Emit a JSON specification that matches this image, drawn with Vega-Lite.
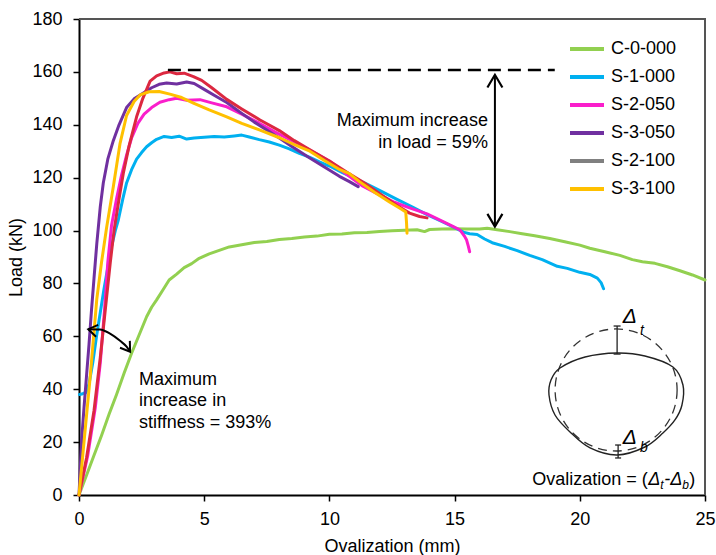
{
  "$schema": "https://vega.github.io/schema/vega-lite/v6.json",
  "width": 626,
  "height": 476,
  "autosize": {"type": "none"},
  "padding": {"left": 79, "top": 19, "right": 11, "bottom": 60},
  "background": "white",
  "config": {
    "font": "Liberation Sans",
    "view": {"stroke": null},
    "axis": {
      "grid": false,
      "domainColor": "black",
      "domainWidth": 2,
      "tickColor": "black",
      "tickWidth": 1.5,
      "tickSize": 6,
      "labelFlush": false,
      "labelFontSize": 18,
      "labelColor": "black",
      "titleFontSize": 18,
      "titleFontWeight": "normal",
      "titleColor": "black"
    },
    "text": {"font": "Liberation Sans", "fontSize": 18, "color": "black"}
  },
  "datasets": {
    "curves": [
      {"s": "C-0-000", "x": 0, "y": 0}, {"s": "C-0-000", "x": 0.3, "y": 7.5}, {"s": "C-0-000", "x": 0.6, "y": 15}, {"s": "C-0-000", "x": 0.9, "y": 22.5}, {"s": "C-0-000", "x": 1.2, "y": 30.5}, {"s": "C-0-000", "x": 1.5, "y": 38}, {"s": "C-0-000", "x": 1.8, "y": 46}, {"s": "C-0-000", "x": 2.1, "y": 53.6}, {"s": "C-0-000", "x": 2.4, "y": 60.5}, {"s": "C-0-000", "x": 2.7, "y": 67.4}, {"s": "C-0-000", "x": 2.9, "y": 71}, {"s": "C-0-000", "x": 3.1, "y": 73.8}, {"s": "C-0-000", "x": 3.35, "y": 77.5}, {"s": "C-0-000", "x": 3.6, "y": 81.3}, {"s": "C-0-000", "x": 3.9, "y": 83.5}, {"s": "C-0-000", "x": 4.2, "y": 86}, {"s": "C-0-000", "x": 4.5, "y": 87.5}, {"s": "C-0-000", "x": 4.8, "y": 89.5}, {"s": "C-0-000", "x": 5.2, "y": 91.2}, {"s": "C-0-000", "x": 5.6, "y": 92.5}, {"s": "C-0-000", "x": 6.0, "y": 93.8}, {"s": "C-0-000", "x": 6.5, "y": 94.6}, {"s": "C-0-000", "x": 7.0, "y": 95.5}, {"s": "C-0-000", "x": 7.5, "y": 95.9}, {"s": "C-0-000", "x": 8.0, "y": 96.6}, {"s": "C-0-000", "x": 8.5, "y": 97.0}, {"s": "C-0-000", "x": 9.0, "y": 97.6}, {"s": "C-0-000", "x": 9.5, "y": 97.9}, {"s": "C-0-000", "x": 10.0, "y": 98.6}, {"s": "C-0-000", "x": 10.5, "y": 98.7}, {"s": "C-0-000", "x": 11.0, "y": 99.2}, {"s": "C-0-000", "x": 11.5, "y": 99.3}, {"s": "C-0-000", "x": 12.0, "y": 99.6}, {"s": "C-0-000", "x": 12.5, "y": 99.9}, {"s": "C-0-000", "x": 13.0, "y": 100.1}, {"s": "C-0-000", "x": 13.5, "y": 100.3}, {"s": "C-0-000", "x": 13.8, "y": 99.6}, {"s": "C-0-000", "x": 14.0, "y": 100.4}, {"s": "C-0-000", "x": 14.5, "y": 100.6}, {"s": "C-0-000", "x": 15.0, "y": 100.7}, {"s": "C-0-000", "x": 15.5, "y": 100.6}, {"s": "C-0-000", "x": 16.0, "y": 100.6}, {"s": "C-0-000", "x": 16.3, "y": 100.9}, {"s": "C-0-000", "x": 16.7, "y": 100.3}, {"s": "C-0-000", "x": 17.2, "y": 99.6}, {"s": "C-0-000", "x": 17.7, "y": 98.8}, {"s": "C-0-000", "x": 18.2, "y": 98.0}, {"s": "C-0-000", "x": 18.8, "y": 97.0}, {"s": "C-0-000", "x": 19.4, "y": 95.8}, {"s": "C-0-000", "x": 20.0, "y": 94.5}, {"s": "C-0-000", "x": 20.4, "y": 93.3}, {"s": "C-0-000", "x": 21.0, "y": 92.0}, {"s": "C-0-000", "x": 21.6, "y": 90.6}, {"s": "C-0-000", "x": 22.1, "y": 89.0}, {"s": "C-0-000", "x": 22.5, "y": 88.2}, {"s": "C-0-000", "x": 23.0, "y": 87.6}, {"s": "C-0-000", "x": 23.5, "y": 86.3}, {"s": "C-0-000", "x": 24.0, "y": 84.8}, {"s": "C-0-000", "x": 24.5, "y": 83.2}, {"s": "C-0-000", "x": 25.0, "y": 81.3},

      {"s": "S-1-000", "x": 0.02, "y": 38}, {"s": "S-1-000", "x": 0.15, "y": 38.3}, {"s": "S-1-000", "x": 0.28, "y": 38.8}, {"s": "S-1-000", "x": 0.4, "y": 42}, {"s": "S-1-000", "x": 0.55, "y": 50}, {"s": "S-1-000", "x": 0.7, "y": 60}, {"s": "S-1-000", "x": 0.85, "y": 69}, {"s": "S-1-000", "x": 1.0, "y": 78}, {"s": "S-1-000", "x": 1.15, "y": 86}, {"s": "S-1-000", "x": 1.3, "y": 94}, {"s": "S-1-000", "x": 1.45, "y": 100}, {"s": "S-1-000", "x": 1.57, "y": 104}, {"s": "S-1-000", "x": 1.75, "y": 112}, {"s": "S-1-000", "x": 1.9, "y": 118}, {"s": "S-1-000", "x": 2.1, "y": 123}, {"s": "S-1-000", "x": 2.3, "y": 127}, {"s": "S-1-000", "x": 2.5, "y": 129.5}, {"s": "S-1-000", "x": 2.7, "y": 131.7}, {"s": "S-1-000", "x": 2.9, "y": 133.2}, {"s": "S-1-000", "x": 3.1, "y": 134.5}, {"s": "S-1-000", "x": 3.4, "y": 135.6}, {"s": "S-1-000", "x": 3.7, "y": 135.2}, {"s": "S-1-000", "x": 4.0, "y": 135.7}, {"s": "S-1-000", "x": 4.3, "y": 134.6}, {"s": "S-1-000", "x": 4.6, "y": 135.0}, {"s": "S-1-000", "x": 5.0, "y": 135.3}, {"s": "S-1-000", "x": 5.4, "y": 135.6}, {"s": "S-1-000", "x": 5.8, "y": 135.4}, {"s": "S-1-000", "x": 6.2, "y": 135.8}, {"s": "S-1-000", "x": 6.5, "y": 136.1}, {"s": "S-1-000", "x": 6.8, "y": 135.4}, {"s": "S-1-000", "x": 7.2, "y": 134.4}, {"s": "S-1-000", "x": 7.6, "y": 133.5}, {"s": "S-1-000", "x": 8.0, "y": 132.3}, {"s": "S-1-000", "x": 8.4, "y": 130.9}, {"s": "S-1-000", "x": 8.8, "y": 129.2}, {"s": "S-1-000", "x": 9.2, "y": 127.8}, {"s": "S-1-000", "x": 9.6, "y": 126}, {"s": "S-1-000", "x": 10.0, "y": 124.4}, {"s": "S-1-000", "x": 10.5, "y": 122}, {"s": "S-1-000", "x": 11.0, "y": 119.8}, {"s": "S-1-000", "x": 11.5, "y": 117.6}, {"s": "S-1-000", "x": 12.0, "y": 115.2}, {"s": "S-1-000", "x": 12.7, "y": 111.8}, {"s": "S-1-000", "x": 13.3, "y": 109}, {"s": "S-1-000", "x": 13.9, "y": 106}, {"s": "S-1-000", "x": 14.4, "y": 103.8}, {"s": "S-1-000", "x": 14.8, "y": 102}, {"s": "S-1-000", "x": 15.1, "y": 100.6}, {"s": "S-1-000", "x": 15.35, "y": 99.4}, {"s": "S-1-000", "x": 15.6, "y": 98.8}, {"s": "S-1-000", "x": 15.9, "y": 98.5}, {"s": "S-1-000", "x": 16.2, "y": 96.8}, {"s": "S-1-000", "x": 16.5, "y": 95.4}, {"s": "S-1-000", "x": 17.0, "y": 94.0}, {"s": "S-1-000", "x": 17.5, "y": 92.4}, {"s": "S-1-000", "x": 18.0, "y": 90.6}, {"s": "S-1-000", "x": 18.5, "y": 89.0}, {"s": "S-1-000", "x": 19.1, "y": 86.5}, {"s": "S-1-000", "x": 19.5, "y": 85.7}, {"s": "S-1-000", "x": 20.0, "y": 84.2}, {"s": "S-1-000", "x": 20.4, "y": 83.4}, {"s": "S-1-000", "x": 20.7, "y": 82.0}, {"s": "S-1-000", "x": 20.85, "y": 80.3}, {"s": "S-1-000", "x": 20.95, "y": 78},

      {"s": "S-2-050", "x": 0, "y": 0}, {"s": "S-2-050", "x": 0.35, "y": 15}, {"s": "S-2-050", "x": 0.65, "y": 33}, {"s": "S-2-050", "x": 0.85, "y": 50}, {"s": "S-2-050", "x": 1.02, "y": 70}, {"s": "S-2-050", "x": 1.15, "y": 88}, {"s": "S-2-050", "x": 1.3, "y": 102}, {"s": "S-2-050", "x": 1.5, "y": 112}, {"s": "S-2-050", "x": 1.7, "y": 121}, {"s": "S-2-050", "x": 1.9, "y": 128.5}, {"s": "S-2-050", "x": 2.1, "y": 135}, {"s": "S-2-050", "x": 2.35, "y": 140.5}, {"s": "S-2-050", "x": 2.6, "y": 144}, {"s": "S-2-050", "x": 2.9, "y": 146.5}, {"s": "S-2-050", "x": 3.23, "y": 148.5}, {"s": "S-2-050", "x": 3.6, "y": 149.5}, {"s": "S-2-050", "x": 3.9, "y": 150}, {"s": "S-2-050", "x": 4.3, "y": 149.3}, {"s": "S-2-050", "x": 4.83, "y": 149.5}, {"s": "S-2-050", "x": 5.3, "y": 148.3}, {"s": "S-2-050", "x": 5.9, "y": 146.8}, {"s": "S-2-050", "x": 6.5, "y": 144}, {"s": "S-2-050", "x": 7.2, "y": 140.6}, {"s": "S-2-050", "x": 7.8, "y": 137.4}, {"s": "S-2-050", "x": 8.5, "y": 134}, {"s": "S-2-050", "x": 9.2, "y": 130.5}, {"s": "S-2-050", "x": 10.0, "y": 126.3}, {"s": "S-2-050", "x": 10.7, "y": 121.2}, {"s": "S-2-050", "x": 11.3, "y": 117}, {"s": "S-2-050", "x": 12.0, "y": 113.5}, {"s": "S-2-050", "x": 12.6, "y": 110.7}, {"s": "S-2-050", "x": 13.2, "y": 108.6}, {"s": "S-2-050", "x": 13.9, "y": 106.3}, {"s": "S-2-050", "x": 14.5, "y": 103.6}, {"s": "S-2-050", "x": 14.95, "y": 101.5}, {"s": "S-2-050", "x": 15.22, "y": 100.2}, {"s": "S-2-050", "x": 15.4, "y": 97.8}, {"s": "S-2-050", "x": 15.48, "y": 96.4}, {"s": "S-2-050", "x": 15.55, "y": 94}, {"s": "S-2-050", "x": 15.6, "y": 92},

      {"s": "S-3-050", "x": 0, "y": 0}, {"s": "S-3-050", "x": 0.1, "y": 20}, {"s": "S-3-050", "x": 0.2, "y": 33}, {"s": "S-3-050", "x": 0.3, "y": 45}, {"s": "S-3-050", "x": 0.4, "y": 57}, {"s": "S-3-050", "x": 0.5, "y": 70}, {"s": "S-3-050", "x": 0.6, "y": 82}, {"s": "S-3-050", "x": 0.71, "y": 95}, {"s": "S-3-050", "x": 0.85, "y": 109}, {"s": "S-3-050", "x": 0.97, "y": 118}, {"s": "S-3-050", "x": 1.15, "y": 127}, {"s": "S-3-050", "x": 1.37, "y": 134}, {"s": "S-3-050", "x": 1.6, "y": 140}, {"s": "S-3-050", "x": 1.9, "y": 146.5}, {"s": "S-3-050", "x": 2.2, "y": 149.8}, {"s": "S-3-050", "x": 2.57, "y": 152}, {"s": "S-3-050", "x": 2.9, "y": 154}, {"s": "S-3-050", "x": 3.2, "y": 155.3}, {"s": "S-3-050", "x": 3.5, "y": 155.8}, {"s": "S-3-050", "x": 3.9, "y": 155.4}, {"s": "S-3-050", "x": 4.3, "y": 156.2}, {"s": "S-3-050", "x": 4.6, "y": 155.6}, {"s": "S-3-050", "x": 5.0, "y": 153.4}, {"s": "S-3-050", "x": 5.5, "y": 150.6}, {"s": "S-3-050", "x": 5.9, "y": 148.4}, {"s": "S-3-050", "x": 6.5, "y": 144.3}, {"s": "S-3-050", "x": 7.0, "y": 141}, {"s": "S-3-050", "x": 7.5, "y": 138}, {"s": "S-3-050", "x": 8.0, "y": 135}, {"s": "S-3-050", "x": 8.5, "y": 131.8}, {"s": "S-3-050", "x": 9.2, "y": 127.5}, {"s": "S-3-050", "x": 9.8, "y": 124}, {"s": "S-3-050", "x": 10.4, "y": 120.5}, {"s": "S-3-050", "x": 10.8, "y": 118.5}, {"s": "S-3-050", "x": 11.15, "y": 116.6},

      {"s": "S-2-100b", "x": 0, "y": 0}, {"s": "S-2-100b", "x": 0.3, "y": 14}, {"s": "S-2-100b", "x": 0.6, "y": 32}, {"s": "S-2-100b", "x": 0.85, "y": 52}, {"s": "S-2-100b", "x": 1.05, "y": 70}, {"s": "S-2-100b", "x": 1.25, "y": 88}, {"s": "S-2-100b", "x": 1.4, "y": 100}, {"s": "S-2-100b", "x": 1.6, "y": 112}, {"s": "S-2-100b", "x": 1.77, "y": 121.7}, {"s": "S-2-100b", "x": 2.0, "y": 132}, {"s": "S-2-100b", "x": 2.3, "y": 143}, {"s": "S-2-100b", "x": 2.55, "y": 150}, {"s": "S-2-100b", "x": 2.84, "y": 156.5}, {"s": "S-2-100b", "x": 3.1, "y": 158.5}, {"s": "S-2-100b", "x": 3.4, "y": 159.6}, {"s": "S-2-100b", "x": 3.63, "y": 160}, {"s": "S-2-100b", "x": 3.9, "y": 159.3}, {"s": "S-2-100b", "x": 4.2, "y": 159.5}, {"s": "S-2-100b", "x": 4.57, "y": 158.2}, {"s": "S-2-100b", "x": 4.9, "y": 156.8}, {"s": "S-2-100b", "x": 5.3, "y": 154}, {"s": "S-2-100b", "x": 5.9, "y": 149.6}, {"s": "S-2-100b", "x": 6.5, "y": 146}, {"s": "S-2-100b", "x": 7.23, "y": 141.8}, {"s": "S-2-100b", "x": 8.0, "y": 137.8}, {"s": "S-2-100b", "x": 8.6, "y": 134}, {"s": "S-2-100b", "x": 9.22, "y": 130.5}, {"s": "S-2-100b", "x": 10.0, "y": 126.3}, {"s": "S-2-100b", "x": 10.7, "y": 122}, {"s": "S-2-100b", "x": 11.4, "y": 118}, {"s": "S-2-100b", "x": 12.0, "y": 114}, {"s": "S-2-100b", "x": 12.7, "y": 109.5}, {"s": "S-2-100b", "x": 13.2, "y": 106.6}, {"s": "S-2-100b", "x": 13.6, "y": 105.3}, {"s": "S-2-100b", "x": 13.9, "y": 104.8},

      {"s": "S-3-100", "x": 0, "y": 0}, {"s": "S-3-100", "x": 0.2, "y": 20}, {"s": "S-3-100", "x": 0.45, "y": 45}, {"s": "S-3-100", "x": 0.71, "y": 74}, {"s": "S-3-100", "x": 0.9, "y": 88}, {"s": "S-3-100", "x": 1.1, "y": 101}, {"s": "S-3-100", "x": 1.37, "y": 116.6}, {"s": "S-3-100", "x": 1.64, "y": 133}, {"s": "S-3-100", "x": 1.9, "y": 143.5}, {"s": "S-3-100", "x": 2.2, "y": 148.8}, {"s": "S-3-100", "x": 2.44, "y": 151.3}, {"s": "S-3-100", "x": 2.8, "y": 152.5}, {"s": "S-3-100", "x": 3.2, "y": 152.6}, {"s": "S-3-100", "x": 3.63, "y": 151.6}, {"s": "S-3-100", "x": 4.1, "y": 150.3}, {"s": "S-3-100", "x": 4.57, "y": 148.2}, {"s": "S-3-100", "x": 5.2, "y": 145.6}, {"s": "S-3-100", "x": 5.9, "y": 143}, {"s": "S-3-100", "x": 6.5, "y": 140.5}, {"s": "S-3-100", "x": 7.23, "y": 138}, {"s": "S-3-100", "x": 8.03, "y": 135}, {"s": "S-3-100", "x": 8.6, "y": 132.5}, {"s": "S-3-100", "x": 9.22, "y": 130}, {"s": "S-3-100", "x": 9.8, "y": 126.5}, {"s": "S-3-100", "x": 10.42, "y": 123}, {"s": "S-3-100", "x": 10.8, "y": 121.5}, {"s": "S-3-100", "x": 11.2, "y": 118.5}, {"s": "S-3-100", "x": 11.8, "y": 114.5}, {"s": "S-3-100", "x": 12.4, "y": 110.8}, {"s": "S-3-100", "x": 12.8, "y": 108.5}, {"s": "S-3-100", "x": 13.05, "y": 107}, {"s": "S-3-100", "x": 13.08, "y": 103}, {"s": "S-3-100", "x": 13.1, "y": 99}
    ],
    "oval": [
      {"i": 0, "x": 21.49, "y": 53.71}, {"i": 1, "x": 22.6, "y": 52.57}, {"i": 2, "x": 23.72, "y": 48.41}, {"i": 3, "x": 24.12, "y": 41.6}, {"i": 4, "x": 24.08, "y": 34.04}, {"i": 5, "x": 23.8, "y": 28.37}, {"i": 6, "x": 23.32, "y": 23.45}, {"i": 7, "x": 22.6, "y": 18.15}, {"i": 8, "x": 21.49, "y": 15.13}, {"i": 9, "x": 20.41, "y": 17.78}, {"i": 10, "x": 19.61, "y": 23.83}, {"i": 11, "x": 19.01, "y": 30.26}, {"i": 12, "x": 18.77, "y": 37.82}, {"i": 13, "x": 18.85, "y": 43.49}, {"i": 14, "x": 19.21, "y": 48.03}, {"i": 15, "x": 20.21, "y": 52.19}
    ],
    "stiffnessArc": [
      {"x": 0.37, "y": 62.7}, {"x": 0.84, "y": 62.6}, {"x": 1.24, "y": 61}, {"x": 1.64, "y": 58.3}, {"x": 1.9, "y": 56.1}, {"x": 2.04, "y": 54.2}
    ],
    "frame": [
      {"x": 0, "y": 180}, {"x": 25, "y": 180}, {"x": 25, "y": 0}
    ]
  },
  "layer": [
    {
      "data": {"name": "frame"},
      "mark": {"type": "line", "color": "#555555", "strokeWidth": 2, "clip": false},
      "encoding": {
        "x": {"field": "x", "type": "quantitative"},
        "y": {"field": "y", "type": "quantitative"},
        "order": {"field": "y", "type": "quantitative", "sort": "descending"}
      }
    },
    {
      "data": {"name": "curves"},
      "mark": {"type": "line", "strokeWidth": 3, "strokeCap": "round", "strokeJoin": "round"},
      "encoding": {
        "x": {
          "field": "x", "type": "quantitative",
          "scale": {"domain": [0, 25], "nice": false, "zero": false},
          "axis": {"title": "Ovalization (mm)", "values": [0, 5, 10, 15, 20, 25], "labelPadding": 9, "titlePadding": 9}
        },
        "y": {
          "field": "y", "type": "quantitative",
          "scale": {"domain": [0, 180], "nice": false},
          "axis": {"title": "Load (kN)", "values": [0, 20, 40, 60, 80, 100, 120, 140, 160, 180], "labelPadding": 11, "titlePadding": 6}
        },
        "color": {
          "field": "s", "type": "nominal",
          "scale": {
            "domain": ["C-0-000", "S-1-000", "S-2-050", "S-3-050", "S-2-100", "S-3-100", "S-2-100b"],
            "range": ["#92D050", "#00B0F0", "#FA1ECB", "#7030A0", "#808080", "#FFC000", "#DC2840"]
          },
          "legend": {
            "values": ["C-0-000", "S-1-000", "S-2-050", "S-3-050", "S-2-100", "S-3-100"],
            "title": null,
            "orient": "none",
            "legendX": 489,
            "legendY": 11,
            "symbolType": "stroke",
            "symbolSize": 1156,
            "symbolStrokeWidth": 4,
            "labelFontSize": 18,
            "labelColor": "black",
            "labelOffset": 5,
            "rowPadding": -4.4
          }
        }
      }
    },
    {
      "data": {"values": [{}]},
      "mark": {"type": "rule", "color": "black", "strokeWidth": 2.5, "strokeDash": [13, 7]},
      "encoding": {"x": {"datum": 3.55}, "x2": {"datum": 19.0}, "y": {"datum": 160.7}}
    },
    {
      "data": {"values": [{}]},
      "mark": {"type": "rule", "color": "black", "strokeWidth": 2},
      "encoding": {"x": {"datum": 16.61}, "y": {"datum": 101.5}, "y2": {"datum": 158.9}}
    },
    {
      "data": {"values": [{}]},
      "mark": {"type": "point", "shape": "M-1,1.7L0,0L1,1.7", "size": 225, "filled": false, "stroke": "black", "strokeWidth": 2.2, "opacity": 1},
      "encoding": {"x": {"datum": 16.61}, "y": {"datum": 158.9}}
    },
    {
      "data": {"values": [{}]},
      "mark": {"type": "point", "shape": "M-1,1.7L0,0L1,1.7", "size": 225, "filled": false, "stroke": "black", "strokeWidth": 2.2, "opacity": 1, "angle": 180},
      "encoding": {"x": {"datum": 16.61}, "y": {"datum": 101.5}}
    },
    {
      "data": {"values": [{}]},
      "mark": {"type": "text", "text": ["Maximum increase", "in load = 59%"], "align": "right", "baseline": "middle", "lineHeight": 22, "fontSize": 18},
      "encoding": {"x": {"datum": 16.33}, "y": {"datum": 141.5}}
    },
    {
      "data": {"name": "stiffnessArc"},
      "mark": {"type": "line", "color": "black", "strokeWidth": 2, "interpolate": "monotone"},
      "encoding": {"x": {"field": "x", "type": "quantitative"}, "y": {"field": "y", "type": "quantitative"}}
    },
    {
      "data": {"values": [{}]},
      "mark": {"type": "point", "shape": "M-1,1.5L0,0L1,1.5", "size": 144, "filled": false, "stroke": "black", "strokeWidth": 2, "opacity": 1, "angle": 280},
      "encoding": {"x": {"datum": 0.37}, "y": {"datum": 62.7}}
    },
    {
      "data": {"values": [{}]},
      "mark": {"type": "point", "shape": "M-1,1.5L0,0L1,1.5", "size": 144, "filled": false, "stroke": "black", "strokeWidth": 2, "opacity": 1, "angle": 145},
      "encoding": {"x": {"datum": 2.04}, "y": {"datum": 54.2}}
    },
    {
      "data": {"values": [{}]},
      "mark": {"type": "text", "text": ["Maximum", "increase in", "stiffness = 393%"], "align": "left", "baseline": "middle", "lineHeight": 21.8, "fontSize": 18},
      "encoding": {"x": {"datum": 2.4}, "y": {"datum": 43.6}}
    },
    {
      "data": {"values": [{}]},
      "mark": {"type": "point", "shape": "circle", "size": 14884, "filled": false, "stroke": "#333333", "strokeWidth": 1.3, "strokeDash": [9, 6], "opacity": 1},
      "encoding": {"x": {"datum": 21.45}, "y": {"datum": 39.71}}
    },
    {
      "data": {"name": "oval"},
      "mark": {"type": "line", "color": "#222222", "strokeWidth": 1.4, "interpolate": "cardinal-closed"},
      "encoding": {"x": {"field": "x", "type": "quantitative"}, "y": {"field": "y", "type": "quantitative"}, "order": {"field": "i", "type": "quantitative"}}
    },
    {
      "data": {"values": [{}]},
      "mark": {"type": "rule", "color": "#222222", "strokeWidth": 1.3},
      "encoding": {"x": {"datum": 21.49}, "y": {"datum": 53.3}, "y2": {"datum": 63.9}}
    },
    {
      "data": {"values": [{}]},
      "mark": {"type": "rule", "color": "#222222", "strokeWidth": 1.3},
      "encoding": {"x": {"datum": 21.53}, "y": {"datum": 14.0}, "y2": {"datum": 18.9}}
    },
    {
      "data": {"values": [{"y": 53.3}, {"y": 63.9}]},
      "mark": {"type": "point", "shape": "stroke", "size": 49, "stroke": "#222222", "strokeWidth": 1.3, "opacity": 1},
      "encoding": {"x": {"datum": 21.49}, "y": {"field": "y", "type": "quantitative"}}
    },
    {
      "data": {"values": [{"y": 14.0}, {"y": 18.9}]},
      "mark": {"type": "point", "shape": "stroke", "size": 36, "stroke": "#222222", "strokeWidth": 1.3, "opacity": 1},
      "encoding": {"x": {"datum": 21.53}, "y": {"field": "y", "type": "quantitative"}}
    },
    {
      "data": {"values": [{}]},
      "mark": {"type": "text", "text": "Δ", "fontSize": 21, "fontStyle": "italic", "align": "center", "baseline": "middle"},
      "encoding": {"x": {"datum": 22.0}, "y": {"datum": 67.3}}
    },
    {
      "data": {"values": [{}]},
      "mark": {"type": "text", "text": "t", "fontSize": 14, "fontStyle": "italic", "align": "center", "baseline": "middle"},
      "encoding": {"x": {"datum": 22.48}, "y": {"datum": 62.0}}
    },
    {
      "data": {"values": [{}]},
      "mark": {"type": "text", "text": "Δ", "fontSize": 21, "fontStyle": "italic", "align": "center", "baseline": "middle"},
      "encoding": {"x": {"datum": 22.0}, "y": {"datum": 21.56}}
    },
    {
      "data": {"values": [{}]},
      "mark": {"type": "text", "text": "b", "fontSize": 14, "fontStyle": "italic", "align": "center", "baseline": "middle"},
      "encoding": {"x": {"datum": 22.56}, "y": {"datum": 17.8}}
    },
    {
      "data": {"values": [{}]},
      "mark": {"type": "text", "text": "Ovalization = (", "fontSize": 18, "align": "left", "baseline": "middle"},
      "encoding": {"x": {"datum": 18.1}, "y": {"datum": 5.67}}
    },
    {
      "data": {"values": [{}]},
      "mark": {"type": "text", "text": "Δ", "fontSize": 18, "fontStyle": "italic", "align": "left", "baseline": "middle", "dx": 116},
      "encoding": {"x": {"datum": 18.1}, "y": {"datum": 5.67}}
    },
    {
      "data": {"values": [{}]},
      "mark": {"type": "text", "text": "t", "fontSize": 12, "fontStyle": "italic", "align": "left", "baseline": "middle", "dx": 128, "dy": 5},
      "encoding": {"x": {"datum": 18.1}, "y": {"datum": 5.67}}
    },
    {
      "data": {"values": [{}]},
      "mark": {"type": "text", "text": "-Δ", "fontSize": 18, "fontStyle": "italic", "align": "left", "baseline": "middle", "dx": 132},
      "encoding": {"x": {"datum": 18.1}, "y": {"datum": 5.67}}
    },
    {
      "data": {"values": [{}]},
      "mark": {"type": "text", "text": "b", "fontSize": 12, "fontStyle": "italic", "align": "left", "baseline": "middle", "dx": 150, "dy": 5},
      "encoding": {"x": {"datum": 18.1}, "y": {"datum": 5.67}}
    },
    {
      "data": {"values": [{}]},
      "mark": {"type": "text", "text": ")", "fontSize": 18, "align": "left", "baseline": "middle", "dx": 157},
      "encoding": {"x": {"datum": 18.1}, "y": {"datum": 5.67}}
    }
  ]
}
